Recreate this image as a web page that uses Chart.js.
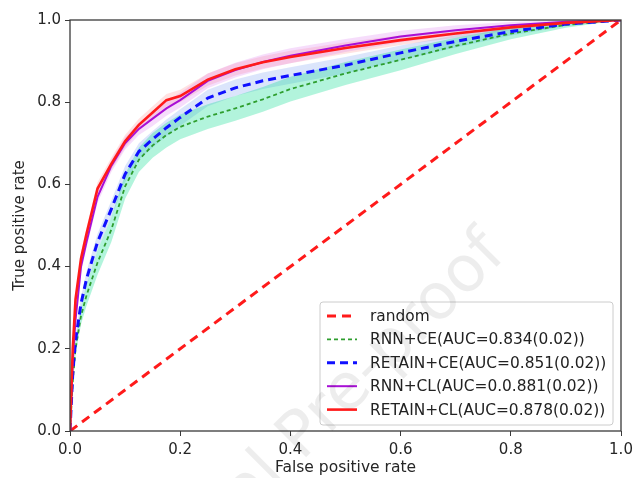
<!DOCTYPE html>
<html>
<head>
<meta charset="utf-8">
<script src="https://cdn.jsdelivr.net/npm/chart.js@4.4.1/dist/chart.umd.min.js"></script>
<style>
  html, body { margin: 0; padding: 0; background: #fff; }
  #wrap { width: 634px; height: 478px; }
</style>
</head>
<body>
<div id="wrap"><canvas id="roc" width="634" height="478"></canvas></div>
<script>
// false positive rate grid shared by every curve
const fpr = [0, 0.005, 0.01, 0.02, 0.03, 0.05, 0.075, 0.1, 0.125, 0.15, 0.175, 0.2, 0.25, 0.3, 0.35, 0.4, 0.5, 0.6, 0.7, 0.8, 0.9, 1.0];

// mean true positive rates
const tprRnnCe    = [0, 0.12, 0.20, 0.28, 0.33, 0.41, 0.49, 0.595, 0.66, 0.695, 0.72, 0.74, 0.765, 0.785, 0.807, 0.832, 0.87, 0.903, 0.937, 0.967, 0.988, 1];
const tprRetainCe = [0, 0.14, 0.22, 0.31, 0.37, 0.46, 0.54, 0.625, 0.68, 0.71, 0.738, 0.763, 0.81, 0.835, 0.852, 0.865, 0.89, 0.92, 0.948, 0.972, 0.99, 1];
const tprRnnCl    = [0, 0.17, 0.27, 0.40, 0.46, 0.57, 0.645, 0.70, 0.735, 0.76, 0.785, 0.805, 0.852, 0.878, 0.898, 0.913, 0.938, 0.96, 0.975, 0.987, 0.996, 1];
const tprRetainCl = [0, 0.20, 0.32, 0.42, 0.48, 0.59, 0.65, 0.705, 0.745, 0.775, 0.805, 0.815, 0.855, 0.88, 0.897, 0.91, 0.932, 0.951, 0.967, 0.982, 0.993, 1];

// half width of the shaded band around each curve
const spreadRnnCe    = [0, 0.01, 0.015, 0.02, 0.025, 0.03, 0.03, 0.03, 0.03, 0.03, 0.03, 0.03, 0.03, 0.03, 0.03, 0.03, 0.028, 0.025, 0.02, 0.014, 0.007, 0];
const spreadRetainCe = [0, 0.01, 0.012, 0.015, 0.018, 0.02, 0.02, 0.02, 0.02, 0.02, 0.02, 0.02, 0.02, 0.02, 0.02, 0.02, 0.02, 0.018, 0.015, 0.01, 0.005, 0];
const spreadRnnCl    = [0, 0.01, 0.012, 0.015, 0.015, 0.015, 0.015, 0.015, 0.015, 0.018, 0.018, 0.018, 0.018, 0.018, 0.018, 0.018, 0.016, 0.014, 0.012, 0.008, 0.004, 0];
const spreadRetainCl = [0, 0.01, 0.012, 0.015, 0.015, 0.015, 0.015, 0.015, 0.015, 0.015, 0.015, 0.015, 0.015, 0.015, 0.015, 0.015, 0.014, 0.012, 0.01, 0.007, 0.004, 0];

const randomX = [0, 1];
const randomY = [0, 1];

const legendLabels = [
  'random',
  'RNN+CE(AUC=0.834(0.02))',
  'RETAIN+CE(AUC=0.851(0.02))',
  'RNN+CL(AUC=0.0.881(0.02))',
  'RETAIN+CL(AUC=0.878(0.02))'
];

const FONT = '"DejaVu Sans", sans-serif';
const pts = (xs, ys) => xs.map((x, i) => ({ x: x, y: ys[i] }));
const shifted = (ys, sp, sign) => ys.map((y, i) => Math.min(1, Math.max(0, y + sign * sp[i])));

function band(tpr, spread, color) {
  return [
    { data: pts(fpr, shifted(tpr, spread, -1)), borderWidth: 0, pointRadius: 0, fill: false, order: 20 },
    { data: pts(fpr, shifted(tpr, spread, 1)), borderWidth: 0, pointRadius: 0, fill: '-1', backgroundColor: color, order: 20 }
  ];
}

const lines = [
  { tpr: randomY, xs: randomX, color: '#ff1a1a', width: 3, dash: [9, 6] },
  { tpr: tprRnnCe, xs: fpr, color: '#2e9e2e', width: 1.8, dash: [4, 3] },
  { tpr: tprRetainCe, xs: fpr, color: '#1010ff', width: 3, dash: [8, 5] },
  { tpr: tprRnnCl, xs: fpr, color: '#a80fd6', width: 2, dash: [] },
  { tpr: tprRetainCl, xs: fpr, color: '#ff1a1a', width: 2.6, dash: [] }
];

const datasets = [
  ...band(tprRnnCe, spreadRnnCe, 'rgba(0, 220, 140, 0.30)'),
  ...band(tprRetainCe, spreadRetainCe, 'rgba(110, 150, 240, 0.25)'),
  ...band(tprRnnCl, spreadRnnCl, 'rgba(220, 120, 240, 0.25)'),
  ...band(tprRetainCl, spreadRetainCl, 'rgba(255, 140, 140, 0.25)')
];
lines.forEach((l, i) => {
  datasets.push({
    label: legendLabels[i],
    data: pts(l.xs, l.tpr),
    borderColor: l.color,
    borderWidth: l.width,
    borderDash: l.dash,
    pointRadius: 0,
    fill: false,
    tension: 0,
    order: 10 - i
  });
});

const framePlugin = {
  id: 'frame',
  afterDatasetsDraw(chart) {
    const { ctx, chartArea: a } = chart;
    ctx.save();
    ctx.strokeStyle = '#3a3a3a';
    ctx.lineWidth = 1.3;
    ctx.strokeRect(a.left, a.top, a.right - a.left, a.bottom - a.top);
    ctx.restore();
  }
};

const legendPlugin = {
  id: 'boxLegend',
  afterDraw(chart) {
    const ctx = chart.ctx;
    const x0 = 320, y0 = 302, w = 293, h = 123;
    ctx.save();
    ctx.beginPath();
    ctx.roundRect(x0, y0, w, h, 3);
    ctx.fillStyle = 'rgba(255,255,255,0.85)';
    ctx.fill();
    ctx.strokeStyle = '#cccccc';
    ctx.lineWidth = 1;
    ctx.stroke();
    ctx.font = '15.4px ' + FONT;
    ctx.textBaseline = 'middle';
    lines.forEach((l, i) => {
      const y = y0 + 14 + i * 23.4;
      ctx.beginPath();
      ctx.setLineDash(l.dash);
      ctx.strokeStyle = l.color;
      ctx.lineWidth = l.width;
      ctx.moveTo(x0 + 7, y);
      ctx.lineTo(x0 + 37, y);
      ctx.stroke();
      ctx.setLineDash([]);
      ctx.fillStyle = '#222';
      ctx.fillText(legendLabels[i], x0 + 50, y + 1);
    });
    ctx.restore();

    // faint watermark
    ctx.save();
    ctx.translate(496, 244);
    ctx.rotate(-Math.PI / 4);
    ctx.font = '64px ' + FONT;
    ctx.textAlign = 'right';
    ctx.textBaseline = 'middle';
    ctx.fillStyle = 'rgba(0,0,0,0.07)';
    ctx.fillText('Journal Pre-proof', 0, 0);
    ctx.restore();
  }
};

new Chart(document.getElementById('roc'), {
  type: 'line',
  data: { datasets: datasets },
  options: {
    responsive: false,
    animation: false,
    layout: { padding: { top: 20, right: 0, left: 0, bottom: 0 } },
    plugins: { legend: { display: false }, tooltip: { enabled: false } },
    scales: {
      x: {
        type: 'linear', min: 0, max: 1,
        afterFit: s => { s.height = 47; s.paddingRight = 13; s.paddingLeft = 0; },
        ticks: { stepSize: 0.2, callback: v => v.toFixed(1), color: '#262626', font: { family: FONT, size: 15 }, padding: 5, maxRotation: 0 },
        grid: { drawOnChartArea: false, tickLength: 5, color: '#3a3a3a' },
        border: { display: false },
        title: { display: true, text: 'False positive rate', color: '#262626', font: { family: FONT, size: 15.5 }, padding: { top: 0, bottom: 1 } }
      },
      y: {
        type: 'linear', min: 0, max: 1,
        afterFit: s => { s.width = 70; },
        ticks: { stepSize: 0.2, callback: v => v.toFixed(1), color: '#262626', font: { family: FONT, size: 15 }, padding: 4 },
        grid: { drawOnChartArea: false, tickLength: 5, color: '#3a3a3a' },
        border: { display: false },
        title: { display: true, text: 'True positive rate', color: '#262626', font: { family: FONT, size: 15 }, padding: { top: 11, bottom: 0 } }
      }
    }
  },
  plugins: [framePlugin, legendPlugin]
});
</script>
</body>
</html>
